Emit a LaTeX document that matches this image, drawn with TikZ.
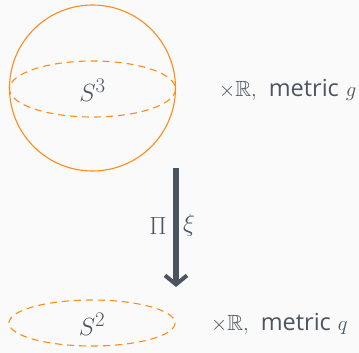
\documentclass[tikz,border=0pt]{standalone}
\usepackage{amssymb}
\usepackage{fontspec}
\setsansfont{Open Sans}
\usetikzlibrary{arrows.meta}
\definecolor{bg}{HTML}{FAFAFA}
\definecolor{orng}{HTML}{FF8C1A}
\definecolor{txt}{HTML}{4A5560}
\newcommand{\sidetext}[1]{$\times\mathbb{R},$\hspace{12pt}{\sffamily\fontsize{23.5}{28}\selectfont metric}\hspace{7pt}$#1$}
\tikzset{
  sph/.style={draw=orng, line width=1.1pt},
  dsh/.style={draw=orng, line width=1.1pt, dash pattern=on 7pt off 5pt},
  lbl/.style={text=txt, font=\fontsize{28}{33}\selectfont},
  slbl/.style={text=txt, font=\fontsize{25}{30}\selectfont},
  side/.style={text=txt, font=\fontsize{22}{26}\selectfont, anchor=west, inner sep=0pt},
  arr/.style={draw=txt, line width=5.5pt, -{Straight Barb[length=9pt,width=22pt,line width=4pt]}}
}
\begin{document}
\begin{tikzpicture}[x=1pt,y=-1pt]
\fill[bg] (0,0) rectangle (359,353);
\useasboundingbox (0,0) rectangle (359,353);
\draw[sph] (92.5,88) circle (83);
\draw[dsh] (92.5,89) ellipse (83 and 28);
\node[lbl] (s3) at (92.5,90) {$S^3$};
\node[side] (t1) at (219,90) {\sidetext{g}};
\draw[dsh] (92,323) ellipse (83 and 23);
\node[lbl] (s2) at (92,324) {$S^2$};
\node[side] (t2) at (211,324) {\sidetext{q}};
\coordinate (a1) at (176,168);
\coordinate (a2) at (176,287);
\draw[arr] (a1) -- (a2);
\node[slbl] (pi) at (158,226) {$\Pi$};
\node[slbl] (xi) at (189,225) {$\xi$};
\end{tikzpicture}
\end{document}
